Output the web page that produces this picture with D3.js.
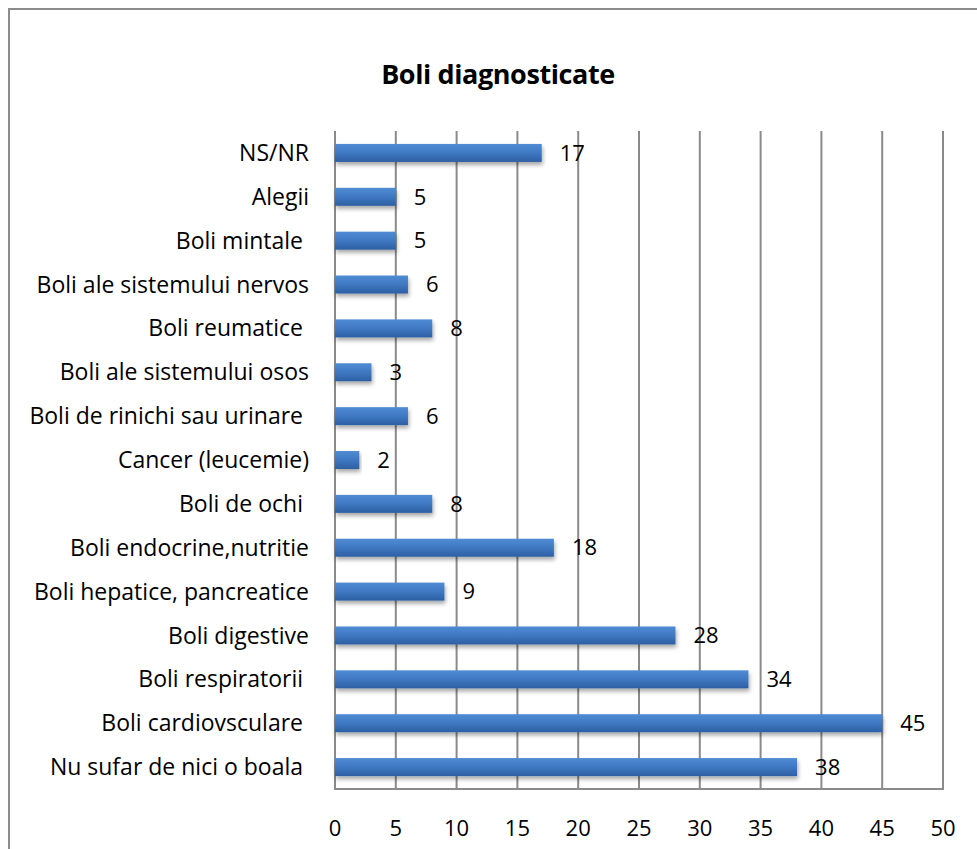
<!DOCTYPE html>
<html>
<head>
<meta charset="utf-8">
<script src="https://cdn.jsdelivr.net/npm/d3@7"></script>
<style>
  body { margin: 0; background: #fff; }
  text { font-family: "Open Sans", sans-serif; white-space: pre; }
</style>
</head>
<body>
<svg id="chart"></svg>
<script>
let categorii = [
    "NS/NR", "Alegii", "Boli mintale ", "Boli ale sistemului nervos", "Boli reumatice ",
    "Boli ale sistemului osos", "Boli de rinichi sau urinare ", "Cancer (leucemie)",
    "Boli de ochi ", "Boli endocrine,nutritie", "Boli hepatice, pancreatice",
    "Boli digestive", "Boli respiratorii ", "Boli cardiovsculare ", "Nu sufar de nici o boala "
];
let valori = [17, 5, 5, 6, 8, 3, 6, 2, 8, 18, 9, 28, 34, 45, 38];
let ticks = [0, 5, 10, 15, 20, 25, 30, 35, 40, 45, 50];
let titlu = "Boli diagnosticate";

let data = categorii.map((c, i) => ({ cat: c, val: valori[i] }));

let ancho = 977, alto = 849;
let svg = d3.select('#chart').attr("width", ancho).attr("height", alto);

// chenar exterior
svg.append("path")
    .attr("d", "M9,860 L9,9 L990,9")
    .attr("fill", "none")
    .attr("stroke", "#8c8c8c")
    .attr("stroke-width", 2);

// titlu
svg.append("text")
    .attr("x", 498).attr("y", 75)
    .attr("dy", "0.35em")
    .attr("text-anchor", "middle")
    .attr("font-weight", "bold")
    .attr("font-size", 27)
    .attr("letter-spacing", -0.4)
    .text(titlu);

let x = d3.scaleLinear().domain([0, 50]).range([335, 943]);
let y = d3.scaleBand().domain(categorii).range([131, 789]).paddingInner(0.59).paddingOuter(0.295);

// gradient bare
let defs = svg.append("defs");
let grad = defs.append("linearGradient").attr("id", "bara").attr("x1", 0).attr("y1", 0).attr("x2", 0).attr("y2", 1);
grad.append("stop").attr("offset", "0%").attr("stop-color", "#4f8cd4");
grad.append("stop").attr("offset", "50%").attr("stop-color", "#3f78c2");
grad.append("stop").attr("offset", "100%").attr("stop-color", "#2d5fa3");
let umbra = defs.append("filter").attr("id", "umbra").attr("x", "-5%").attr("y", "-30%").attr("width", "115%").attr("height", "190%");
umbra.append("feDropShadow").attr("dx", 1).attr("dy", 3).attr("stdDeviation", 2)
    .attr("flood-color", "#000").attr("flood-opacity", 0.35);

// linii verticale
svg.append("g").selectAll("line")
    .data(ticks)
    .enter().append("line")
    .attr("x1", d => x(d)).attr("x2", d => x(d))
    .attr("y1", 131).attr("y2", 789)
    .attr("stroke", "#8a8a8a")
    .attr("stroke-width", 2);

// axa de jos
svg.append("line")
    .attr("x1", x(0) - 1).attr("x2", x(50) + 1)
    .attr("y1", 789).attr("y2", 789)
    .attr("stroke", "#8a8a8a")
    .attr("stroke-width", 2);

// bare
svg.append("g").selectAll("rect")
    .data(data)
    .enter().append("rect")
    .attr("x", x(0))
    .attr("y", d => y(d.cat))
    .attr("width", d => x(d.val) - x(0))
    .attr("height", y.bandwidth())
    .attr("fill", "url(#bara)")
    .attr("filter", "url(#umbra)");

// etichete valori
svg.append("g").selectAll("text")
    .data(data)
    .enter().append("text")
    .attr("x", d => x(d.val) + 18)
    .attr("y", d => y(d.cat) + y.bandwidth() / 2)
    .attr("dy", "0.35em")
    .attr("font-size", 22)
    .text(d => d.val);

// etichete categorii
svg.append("g").selectAll("text")
    .data(data)
    .enter().append("text")
    .attr("x", 309)
    .attr("y", d => y(d.cat) + y.bandwidth() / 2)
    .attr("dy", "0.35em")
    .attr("text-anchor", "end")
    .attr("font-size", 23)
    .text(d => d.cat);

// etichete axa x
svg.append("g").selectAll("text")
    .data(ticks)
    .enter().append("text")
    .attr("x", d => x(d))
    .attr("y", 828)
    .attr("dy", "0.35em")
    .attr("text-anchor", "middle")
    .attr("font-size", 22)
    .text(d => d);
</script>
</body>
</html>
